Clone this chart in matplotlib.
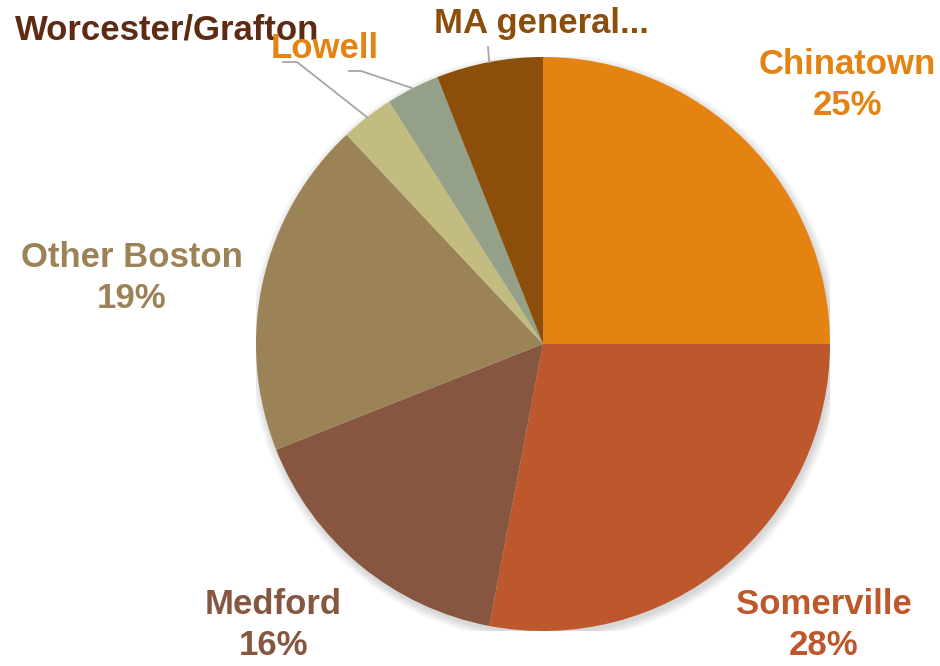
import numpy as np
import matplotlib
matplotlib.use("Agg")
import matplotlib.pyplot as plt
from matplotlib.patches import Circle

W, H = 940, 666
CX, CY, R = 543, 344, 287  # pie centre and radius in pixels

labels = ["Chinatown", "Somerville", "Medford", "Other Boston",
          "Worcester/Grafton", "Lowell", "MA general..."]
shares = [25, 28, 16, 19, 3, 3, 6]
show_pct = [True, True, True, True, False, False, False]

slice_colors = ["#E48312", "#BD582C", "#865640", "#9B8357",
                "#C2BC80", "#94A088", "#8B4F0B"]
label_colors = ["#E48312", "#BD582C", "#865640", "#9B8357",
                "#5E2A12", "#E48312", "#8B4F0B"]

# label centres (pixels) and leader-line start points (None = no leader)
label_pos = [(847, 85), (824, 625), (273, 625), (132, 278),
             (167, 30), (325, 48), (541, 23)]
leader_start = [None, None, None, None,
                [(283, 62), (297, 62)], [(349, 71), (361, 71)], [(488, 47)]]

plt.rcParams["font.family"] = ["Liberation Sans Narrow", "Liberation Sans", "DejaVu Sans"]


def px2d(px, py):
    return (px - CX) / R, (CY - py) / R


fig = plt.figure(figsize=(W / 100, H / 100), dpi=100)
ax = fig.add_axes([(CX - R) / W, (H - CY - R) / H, 2 * R / W, 2 * R / H])

# soft shadow
for i in range(8):
    ax.add_patch(Circle((0.006, -0.012), 1.0 + 0.004 * i, color="k",
                        alpha=0.018, lw=0, zorder=0))

wedges, _ = ax.pie(shares, colors=slice_colors, startangle=90, counterclock=False,
                   radius=1.0, wedgeprops=dict(linewidth=0))
for w in wedges:
    w.set_zorder(2)

ax.set_xlim(-1, 1)
ax.set_ylim(-1, 1)
ax.set_aspect("equal")
ax.axis("off")

for i, w in enumerate(wedges):
    text = labels[i] + (f"\n{shares[i]}%" if show_pct[i] else "")
    x, y = px2d(*label_pos[i])
    ax.text(x, y, text, ha="center", va="center", fontsize=25, fontweight="bold",
            color=label_colors[i], linespacing=1.3, clip_on=False, zorder=5)
    if leader_start[i] is not None:
        mid = np.deg2rad((w.theta1 + w.theta2) / 2)
        pts = [px2d(*p) for p in leader_start[i]] + [(np.cos(mid), np.sin(mid))]
        xs, ys = zip(*pts)
        ax.plot(xs, ys, color="#A6A6A6", lw=1.3, clip_on=False, zorder=4)

fig.savefig("out.png", dpi=100)
